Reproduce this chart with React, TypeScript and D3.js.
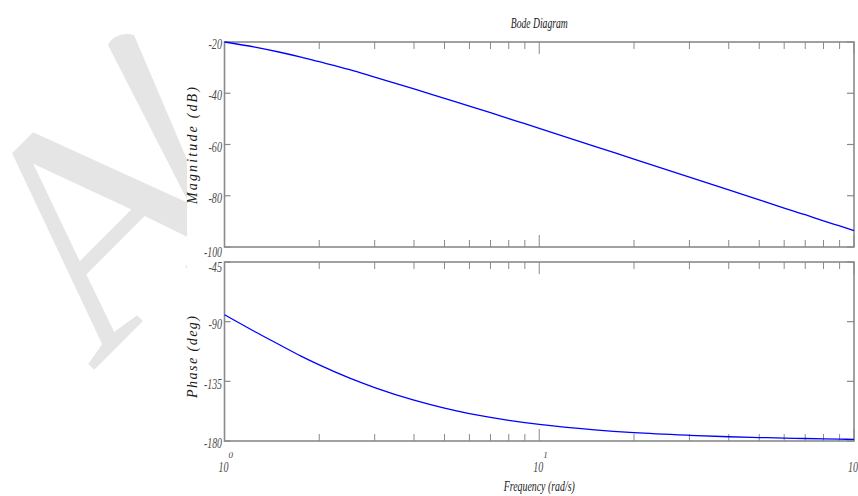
import * as d3 from "d3";

// frequency samples (rad/s)
const freq = [1, 1.25, 1.5, 1.75, 2, 2.5, 3, 4, 5, 6, 7, 8, 9, 10, 15, 20, 30, 40, 50, 60, 70, 80, 90, 100];
const magnitude = [-20.0, -22.0, -24.0, -25.9, -27.7, -30.8, -33.7, -38.3, -42.0, -45.0, -47.6, -49.9, -51.9, -53.7, -60.7, -65.7, -72.7, -77.7, -81.6, -84.8, -87.4, -89.8, -91.8, -93.6];
const phase = [-84.8, -97.6, -107.6, -116.0, -122.6, -132.6, -139.7, -149.2, -155.2, -159.3, -162.2, -164.4, -166.1, -167.5, -171.6, -173.7, -175.7, -176.8, -177.4, -177.8, -178.1, -178.4, -178.6, -178.8];

const magTicks = [-100, -80, -60, -40, -20];
const phaseTicks = [-180, -135, -90, -45];
const decades = [1, 10, 100];
const decadeExp = ["0", "1", "2"];

const W = 858;
const H = 496;
const left = 224.5;
const right = 854;
const magTop = 42;
const magBottom = 247;
const phTop = 262;
const phBottom = 441;

const axisColor = "#8a8a8a";
const textColor = "#4a4a4a";
const font = "'Liberation Serif', 'Times New Roman', serif";

export default function App() {
  const x = d3.scaleLog().domain([1, 100]).range([left, right]);
  const yMag = d3.scaleLinear().domain([-100, -20]).range([magBottom, magTop]);
  const yPh = d3.scaleLinear().domain([-180, -45]).range([phBottom, phTop]);

  const minor = x.ticks().filter((t) => !decades.includes(t));

  const magLine = d3
    .line<number>()
    .x((_, i) => x(freq[i]))
    .y((d) => yMag(d))
    .curve(d3.curveMonotoneX);
  const phLine = d3
    .line<number>()
    .x((_, i) => x(freq[i]))
    .y((d) => yPh(d))
    .curve(d3.curveMonotoneX);

  const panel = (
    y: d3.ScaleLinear<number, number>,
    ticks: number[],
    top: number,
    bottom: number,
    key: string
  ) => (
    <g key={key}>
      {minor.map((t) => (
        <g key={"m" + t}>
          <line x1={x(t)} x2={x(t)} y1={top} y2={top + 7} stroke={axisColor} strokeWidth={1} />
          <line x1={x(t)} x2={x(t)} y1={bottom} y2={bottom - 7} stroke={axisColor} strokeWidth={1} />
        </g>
      ))}
      {decades.map((t) => (
        <g key={"d" + t}>
          <line x1={x(t)} x2={x(t)} y1={top} y2={top + 12} stroke={axisColor} strokeWidth={1} />
          <line x1={x(t)} x2={x(t)} y1={bottom} y2={bottom - 12} stroke={axisColor} strokeWidth={1} />
        </g>
      ))}
      {ticks.map((t) => (
        <g key={"y" + t}>
          <line x1={left} x2={left + 6} y1={y(t)} y2={y(t)} stroke={axisColor} strokeWidth={1.2} />
          <line x1={right} x2={right - 7} y1={y(t)} y2={y(t)} stroke={axisColor} strokeWidth={1.2} />
          <text
            x={222}
            y={y(t)}
            dy={t === -100 || t === -45 ? 9.5 : 7.2}
            textAnchor="end"
            fontFamily={font}
            fontStyle="italic"
            fontSize={14}
            fill={textColor}
            textLength={String(t).length * 4.5}
            lengthAdjust="spacingAndGlyphs"
          >
            {t}
          </text>
        </g>
      ))}
      <rect x={left} y={top} width={right - left} height={bottom - top} fill="none" stroke={axisColor} strokeWidth={1.6} />
    </g>
  );

  return (
    <svg width={W} height={H} style={{ position: "absolute", left: 0, top: 0 }}>
      <rect width={W} height={H} fill="#fff" />
      {/* watermark */}
      <g fill="#e5e5e5">
        <text x={92} y={372} fontFamily={font} fontSize={320} transform="rotate(-45, 92, 372)">
          A
        </text>
        <path d="M108,45 C112,36 124,32 134,35 L200,190 L200,225 Z" />
      </g>
      <rect x={187} y={16} width={W - 187} height={H - 16} fill="#fff" />

      <text
        x={(left + right) / 2}
        y={28}
        textAnchor="middle"
        fontFamily={font}
        fontStyle="italic"
        fontSize={14}
        fill="#222"
        textLength={57}
        lengthAdjust="spacingAndGlyphs"
      >
        Bode Diagram
      </text>

      {panel(yMag, magTicks, magTop, magBottom, "mag")}
      {panel(yPh, phaseTicks, phTop, phBottom, "ph")}

      <path d={magLine(magnitude) ?? ""} fill="none" stroke="#0000ff" strokeWidth={1.3} />
      <path d={phLine(phase) ?? ""} fill="none" stroke="#0000ff" strokeWidth={1.3} />

      {decades.map((t, i) => (
        <g key={"xl" + t} fontFamily={font} fontStyle="italic" fill={textColor}>
          <text x={x(t) - 1} y={472} textAnchor="middle" fontSize={15} textLength={10} lengthAdjust="spacingAndGlyphs">
            10
          </text>
          <text x={x(t) + 4} y={458} fontSize={9}>
            {decadeExp[i]}
          </text>
        </g>
      ))}

      <text
        x={(left + right) / 2}
        y={491}
        textAnchor="middle"
        fontFamily={font}
        fontStyle="italic"
        fontSize={14}
        fill="#222"
        textLength={71}
        lengthAdjust="spacingAndGlyphs"
      >
        Frequency (rad/s)
      </text>

      <text
        transform={`translate(197, ${(magTop + magBottom) / 2 + 1}) rotate(-90)`}
        textAnchor="middle"
        fontFamily={font}
        fontStyle="italic"
        fontSize={14}
        fill="#1a1a1a"
        textLength={117}
        lengthAdjust="spacing"
      >
        Magnitude (dB)
      </text>
      <text
        transform={`translate(197, 357) rotate(-90)`}
        textAnchor="middle"
        fontFamily={font}
        fontStyle="italic"
        fontSize={14}
        fill="#1a1a1a"
        textLength={82}
        lengthAdjust="spacing"
      >
        Phase (deg)
      </text>
    </svg>
  );
}
